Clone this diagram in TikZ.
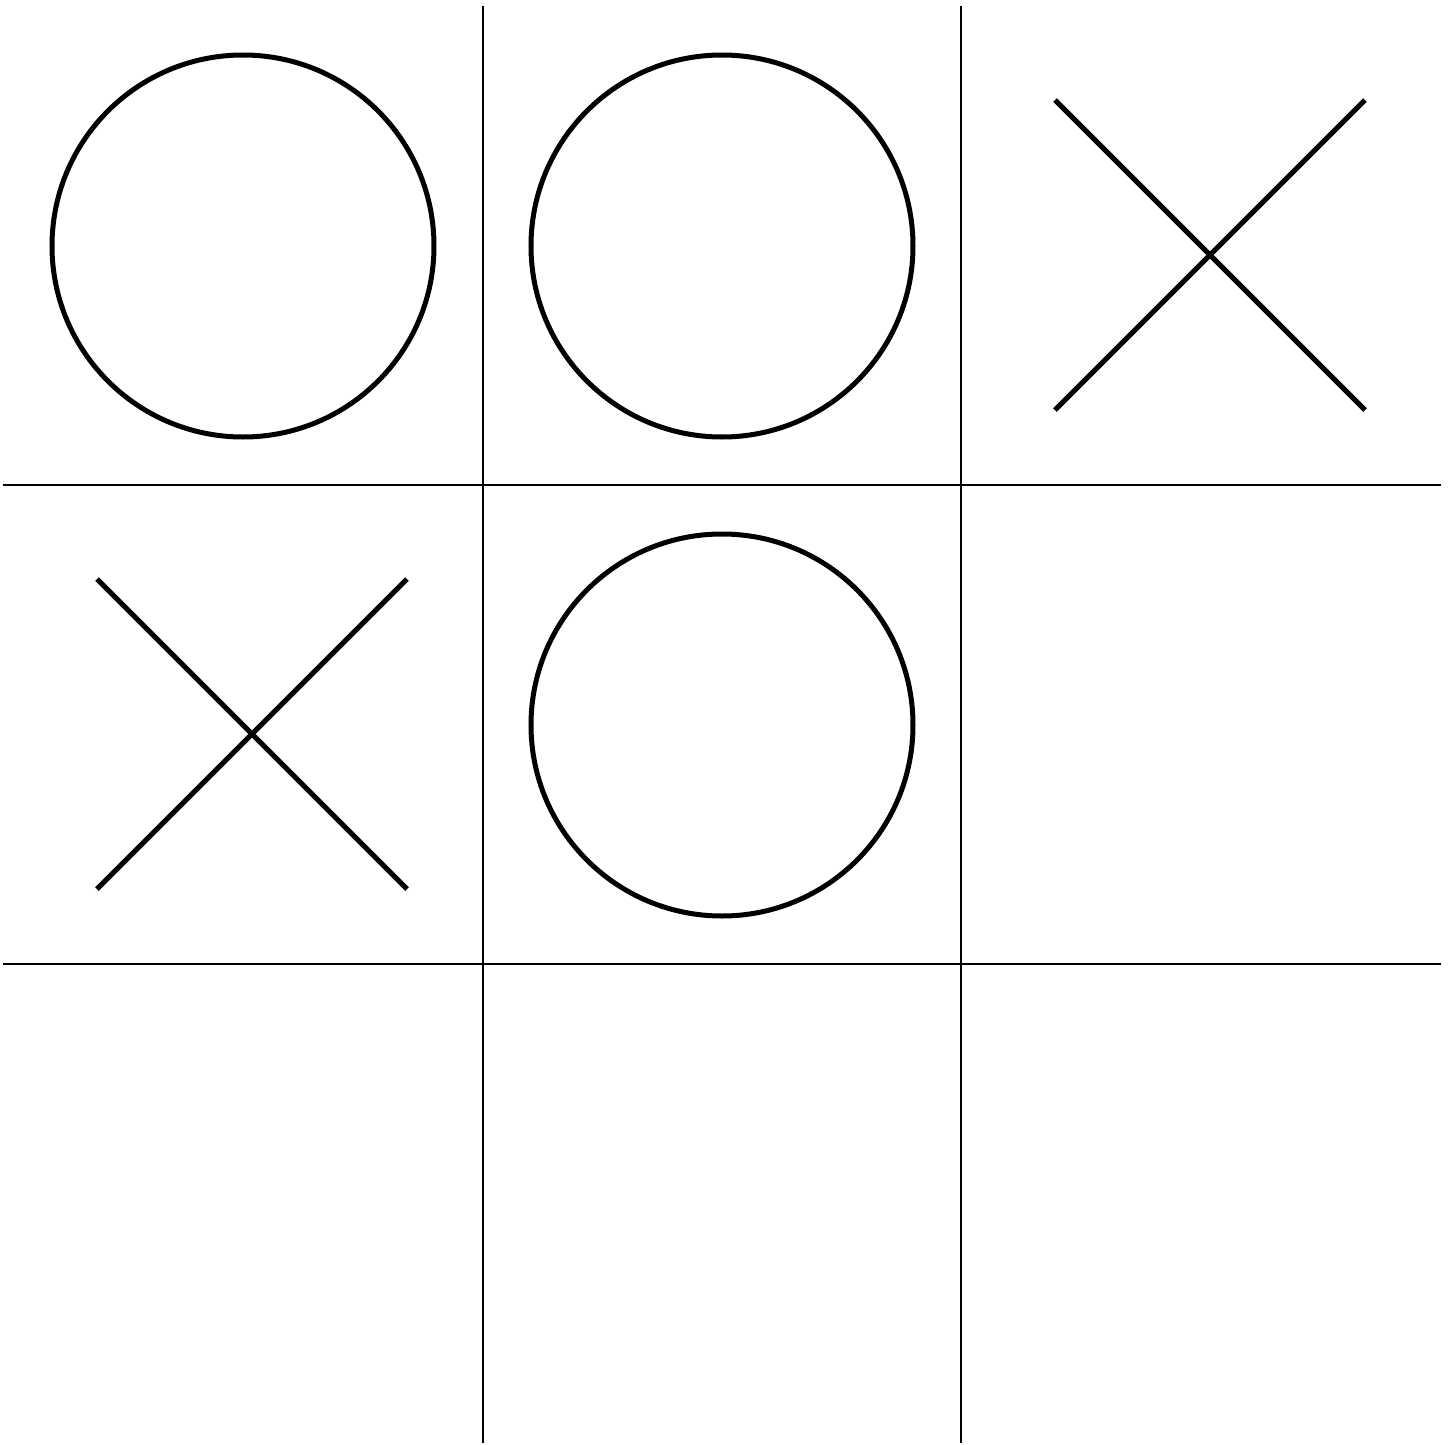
\documentclass[tikz,border=0pt]{standalone}
\usepackage{tikz}
\usetikzlibrary{calc}
\definecolor{ink}{HTML}{000000}

\begin{document}
\begin{tikzpicture}[x=0.01cm,y=-0.01cm,
  gridline/.style={draw=ink, line width=0.018cm},
  piece/.style={draw=ink, line width=0.05cm}]
\useasboundingbox (0,0) rectangle (1453,1445);
% board
\draw[gridline] (483,6) -- (483,1443);
\draw[gridline] (961,6) -- (961,1443);
\draw[gridline] (3,485) -- (1441,485);
\draw[gridline] (3,964) -- (1441,964);
% noughts
\coordinate (oa) at (243,246);
\coordinate (ob) at (722,246);
\coordinate (oc) at (722,725);
\draw[piece] (oa) circle[radius=191];
\draw[piece] (ob) circle[radius=191];
\draw[piece] (oc) circle[radius=191];
% crosses
\coordinate (xa) at (1210,255);
\coordinate (xb) at (252,734);
\draw[piece] ($(xa)+(-155,-155)$) -- ($(xa)+(155,155)$);
\draw[piece] ($(xa)+(-155,155)$) -- ($(xa)+(155,-155)$);
\draw[piece] ($(xb)+(-155,-155)$) -- ($(xb)+(155,155)$);
\draw[piece] ($(xb)+(-155,155)$) -- ($(xb)+(155,-155)$);
\end{tikzpicture}
\end{document}
